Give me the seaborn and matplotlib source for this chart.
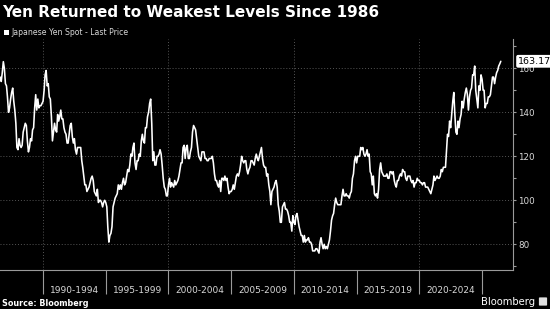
import pandas as pd
import matplotlib
matplotlib.use("Agg")
from matplotlib import pyplot as plt
from matplotlib.patches import Rectangle, FancyBboxPatch
import matplotlib.transforms as mtransforms
import seaborn as sns

# Monthly USD/JPY levels (Aug 1986 -> Jul 2026)
start_month = "1986-08-01"
yen_1980s = [
    156, 154, 158, 163, 160,                                   # 1986 Aug-Dec
    153, 152, 147, 140, 142, 146, 149, 151, 145, 141, 135, 124,  # 1987
    123, 128, 125, 124, 125, 131, 133, 135, 134, 127, 122, 124,  # 1988
    128, 127, 132, 133, 142, 148, 141, 146, 142, 143, 143, 144,  # 1989
]
yen_1990s = [
    145, 150, 157, 159, 152, 153, 147, 146, 138, 127, 131, 135,
    132, 131, 139, 136, 138, 141, 137, 137, 133, 131, 130, 126,
    126, 130, 134, 135, 129, 126, 128, 123, 121, 124, 124, 124,
    124, 118, 115, 111, 107, 107, 104, 105, 106, 108, 110, 111,
    109, 104, 103, 102, 105, 99, 100, 100, 99, 97, 99, 100,
    99, 97, 88, 81, 84, 85, 88, 97, 99, 101, 102, 103,
    107, 105, 107, 105, 108, 110, 107, 108, 111, 114, 113, 116,
    121, 120, 124, 126, 117, 114, 118, 118, 121, 120, 127, 130,
    127, 126, 133, 133, 138, 140, 144, 146, 135, 118, 122, 116,
    116, 120, 120, 121, 123, 121, 116, 110, 106, 105, 102, 102,
]
yen_2000s = [
    107, 110, 106, 108, 107, 106, 109, 107, 108, 109, 111, 114,
    117, 117, 124, 125, 119, 124, 125, 119, 119, 122, 124, 131,
    134, 133, 132, 128, 124, 120, 119, 118, 122, 122, 122, 119,
    119, 118, 118, 119, 119, 119, 120, 117, 112, 109, 109, 107,
    106, 109, 104, 110, 110, 109, 111, 109, 110, 106, 103, 104,
    104, 105, 107, 105, 108, 111, 112, 111, 113, 116, 120, 118,
    117, 118, 118, 114, 112, 114, 115, 118, 118, 117, 116, 119,
    121, 119, 118, 120, 122, 124, 119, 116, 115, 115, 111, 112,
    107, 104, 98, 104, 105, 106, 108, 109, 106, 98, 95, 90,
    90, 97, 98, 99, 96, 96, 95, 93, 90, 90, 86, 93,
]
yen_2010s = [
    90, 89, 93, 94, 91, 88, 86, 84, 84, 81, 84, 81,
    82, 82, 83, 81, 81, 80, 77, 77, 77, 78, 78, 77,
    76, 81, 83, 80, 78, 80, 78, 79, 78, 80, 82, 86,
    91, 93, 94, 98, 101, 99, 98, 98, 98, 98, 102, 105,
    102, 102, 103, 102, 102, 101, 103, 104, 110, 112, 118, 120,
    117, 120, 120, 120, 124, 123, 124, 121, 120, 121, 123, 120,
    121, 113, 112, 107, 111, 103, 102, 103, 101, 105, 114, 117,
    113, 112, 111, 111, 111, 112, 110, 110, 113, 113, 112, 113,
    109, 107, 106, 109, 109, 111, 112, 111, 114, 113, 113, 110,
    109, 111, 111, 111, 109, 108, 109, 106, 108, 108, 110, 109,
]
yen_2020s = [
    109, 108, 108, 107, 108, 108, 106, 106, 106, 105, 104, 103,
    105, 107, 111, 109, 110, 111, 110, 110, 111, 114, 113, 115,
    115, 115, 122, 130, 129, 136, 133, 139, 145, 149, 139, 131,
    130, 136, 133, 137, 139, 145, 142, 146, 149, 151, 148, 141,
    147, 150, 151, 157, 157, 161, 150, 146, 142, 152, 150, 157,
    155, 150, 150, 142, 144, 144, 147, 147, 148, 152, 156, 156,
    153, 156, 158, 159, 161, 162, 163.17,
]

band_labels = ["1990-1994", "1995-1999", "2000-2004", "2005-2009",
               "2010-2014", "2015-2019", "2020-2024"]
band_edges = ["1990", "1995", "2000", "2005", "2010", "2015", "2020", "2025"]
decade_lines = ["1990", "2000", "2010", "2020"]
y_ticks = [80, 100, 120, 140, 160]
y_minor = [70, 90, 110, 130, 150, 170]
last_price = 163.17

prices = yen_1980s + yen_1990s + yen_2000s + yen_2010s + yen_2020s
df = pd.DataFrame({
    "date": pd.date_range(start_month, periods=len(prices), freq="MS"),
    "price": prices,
})

sns.set_theme(style="dark")
plt.rcParams["font.family"] = ["DejaVu Sans"]

axis_grey = "#9a9a9a"
text_grey = "#d8d8d8"

fig = plt.figure(figsize=(5.5, 3.09), dpi=100, facecolor="black")
ax = fig.add_axes([0, 0.1246, 0.9336, 0.7492])
ax.set_facecolor("black")

sns.lineplot(data=df, x="date", y="price", ax=ax, color="white", linewidth=1.15)

ax.set_xlim(pd.Timestamp("1986-07-27"), pd.Timestamp("2027-07-05"))
ax.set_ylim(68.1, 173.3)
ax.set_xlabel("")
ax.set_ylabel("")

# spines
for side in ["left", "top"]:
    ax.spines[side].set_visible(False)
for side in ["right", "bottom"]:
    ax.spines[side].set_visible(True)
    ax.spines[side].set_color(axis_grey)
    ax.spines[side].set_linewidth(0.8)

# y axis on the right
ax.yaxis.tick_right()
ax.set_yticks(y_ticks)
ax.set_yticks(y_minor, minor=True)
ax.tick_params(axis="y", which="both", left=False, right=True, direction="out",
               color=axis_grey, labelcolor=text_grey, labelsize=6.3, width=0.8, pad=1)
ax.tick_params(axis="y", which="major", length=2.4)
ax.tick_params(axis="y", which="minor", length=1.8)

# x axis: long separators between 5-year bands, labels in the middle
edge_dates = [pd.Timestamp(y + "-01-01") for y in band_edges]
mid_dates = [pd.Timestamp(y + "-01-01") + pd.DateOffset(months=30) for y in band_edges[:-1]]
ax.set_xticks(edge_dates)
ax.set_xticklabels([""] * len(edge_dates))
ax.set_xticks(mid_dates, minor=True)
ax.set_xticklabels(band_labels, minor=True)
ax.tick_params(axis="x", which="major", bottom=True, direction="out", length=17.5,
               width=0.8, color=axis_grey)
ax.tick_params(axis="x", which="minor", bottom=True, length=0, pad=11.5,
               labelcolor=text_grey, labelsize=6.5)

# dotted grid
ax.grid(False)
ax.yaxis.grid(True, which="major", linestyle=(0, (1, 2)), color="#555555", linewidth=0.7)
for d in decade_lines:
    ax.axvline(pd.Timestamp(d + "-01-01"), linestyle=(0, (1, 2)), color="#555555",
               linewidth=0.7, zorder=0)

# last price tag
trans = mtransforms.blended_transform_factory(ax.transAxes, ax.transData)
ax.text(1.009, last_price, f"{last_price:.2f}", transform=trans, ha="left", va="center",
        fontsize=6.8, color="black", zorder=10, clip_on=False,
        bbox=dict(boxstyle="round,pad=0.2", fc="white", ec="none"))

# title, legend, footer
fig.text(2 / 550, 1 - 16.7 / 309, "Yen Returned to Weakest Levels Since 1986",
         fontsize=11, fontweight="bold", color="white", va="baseline", ha="left")
fig.patches.append(Rectangle((4 / 550, 1 - 34.7 / 309), 5 / 550, 4.6 / 309,
                             transform=fig.transFigure, facecolor="white",
                             edgecolor="none"))
fig.text(11 / 550, 1 - 35.3 / 309, "Japanese Yen Spot - Last Price",
         fontsize=5.6, color=text_grey, va="baseline", ha="left")
fig.text(2 / 550, 1 - 305.5 / 309, "Source: Bloomberg", fontsize=5.8,
         fontweight="bold", color="white", va="baseline", ha="left")
fig.text(481 / 550, 1 - 305 / 309, "Bloomberg", fontsize=7.2,
         color="white", va="baseline", ha="left")
fig.patches.append(FancyBboxPatch((540 / 550, 1 - 305 / 309), 6 / 550, 7 / 309,
                                  boxstyle="round,pad=0.002", transform=fig.transFigure,
                                  facecolor="#e0e0e0", edgecolor="none"))

fig.savefig("out.png", dpi=100, facecolor="black")
